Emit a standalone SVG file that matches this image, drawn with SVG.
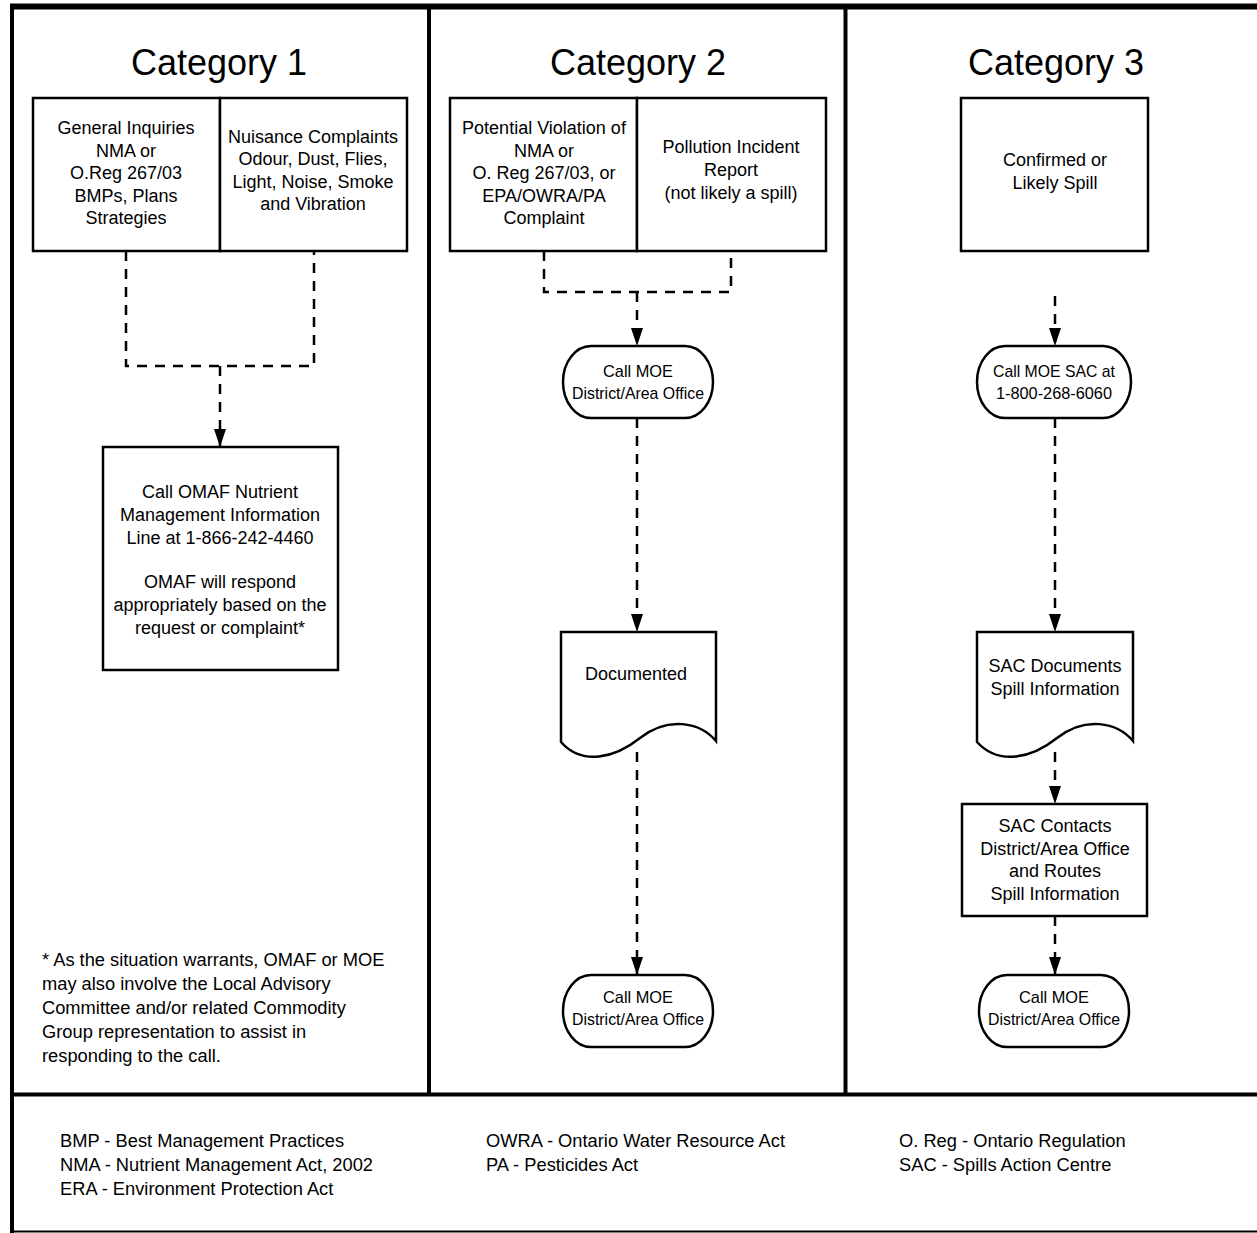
<svg xmlns="http://www.w3.org/2000/svg" width="1257" height="1233" viewBox="0 0 1257 1233">
<style>
text{font-family:"Liberation Sans",Arial,sans-serif;fill:#000;text-anchor:middle}
.t{font-size:36px}
.n{font-size:18px}
.s{font-size:17px}
.l{font-size:18.3px;text-anchor:start}
.box{fill:#fff;stroke:#000;stroke-width:2.5}
.frame{stroke:#000;fill:none}
.dash{fill:none;stroke:#000;stroke-width:2.5;stroke-dasharray:10 8}
</style>
<defs>
<marker id="arr" markerWidth="12" markerHeight="18" refX="6" refY="18" orient="0" markerUnits="userSpaceOnUse" viewBox="0 0 12 18">
<path d="M0,0 L12,0 L6,18 Z" fill="#000"/>
</marker>
</defs>
<rect width="1257" height="1233" fill="#fff"/>
<g id="frame">
<line class="frame" x1="10" y1="6.5" x2="1257" y2="6.5" stroke-width="6"/>
<line class="frame" x1="12" y1="4" x2="12" y2="1233" stroke-width="4"/>
<line class="frame" x1="429" y1="6" x2="429" y2="1094" stroke-width="4"/>
<line class="frame" x1="845.5" y1="6" x2="845.5" y2="1094" stroke-width="4"/>
<line class="frame" x1="10" y1="1094.5" x2="1257" y2="1094.5" stroke-width="4"/>
<line class="frame" x1="10" y1="1231.5" x2="1257" y2="1231.5" stroke-width="2"/>
</g>
<g id="titles">
<text class="t" x="219" y="75">Category 1</text>
<text class="t" x="638" y="75">Category 2</text>
<text class="t" x="1056" y="75">Category 3</text>
</g>
<g id="connectors">
<path class="dash" d="M126,251 V366 H314 V251"/>
<path class="dash" d="M220,366 V447" marker-end="url(#arr)"/>
<path class="dash" d="M544,251 V292 H731 V251"/>
<path class="dash" d="M637,292 V346" marker-end="url(#arr)"/>
<path class="dash" d="M637,418 V632" marker-end="url(#arr)"/>
<path class="dash" d="M637,752 V975" marker-end="url(#arr)"/>
<path class="dash" d="M1055,296 V346" marker-end="url(#arr)"/>
<path class="dash" d="M1055,418 V632" marker-end="url(#arr)"/>
<path class="dash" d="M1055,752 V804" marker-end="url(#arr)"/>
<path class="dash" d="M1055,916 V975" marker-end="url(#arr)"/>
</g>
<g id="c1-general">
<rect class="box" x="33" y="98" width="187" height="153"/>
<text class="n" x="126" y="134">General Inquiries</text>
<text class="n" x="126" y="156.5">NMA or</text>
<text class="n" x="126" y="179">O.Reg 267/03</text>
<text class="n" x="126" y="201.5">BMPs, Plans</text>
<text class="n" x="126" y="224">Strategies</text>
</g>
<g id="c1-nuisance">
<rect class="box" x="220" y="98" width="187" height="153"/>
<text class="n" x="313" y="142.5">Nuisance Complaints</text>
<text class="n" x="313" y="165">Odour, Dust, Flies,</text>
<text class="n" x="313" y="187.5">Light, Noise, Smoke</text>
<text class="n" x="313" y="210">and Vibration</text>
</g>
<g id="c1-omaf">
<rect class="box" x="103" y="447" width="235" height="223"/>
<text class="n" x="220" y="498">Call OMAF Nutrient</text>
<text class="n" x="220" y="521">Management Information</text>
<text class="n" x="220" y="543.5">Line at 1-866-242-4460</text>
<text class="n" x="220" y="588">OMAF will respond</text>
<text class="n" x="220" y="611">appropriately based on the</text>
<text class="n" x="220" y="633.5">request or complaint*</text>
</g>
<g id="c1-note">
<text class="l" x="42" y="965.5">* As the situation warrants, OMAF or MOE</text>
<text class="l" x="42" y="989.5">may also involve the Local Advisory</text>
<text class="l" x="42" y="1013.5">Committee and/or related Commodity</text>
<text class="l" x="42" y="1037.5">Group representation to assist in</text>
<text class="l" x="42" y="1061.5">responding to the call.</text>
</g>
<g id="c2-violation">
<rect class="box" x="450" y="98" width="187" height="153"/>
<text class="n" x="544" y="134">Potential Violation of</text>
<text class="n" x="544" y="156.5">NMA or</text>
<text class="n" x="544" y="179">O. Reg 267/03, or</text>
<text class="n" x="544" y="201.5">EPA/OWRA/PA</text>
<text class="n" x="544" y="224">Complaint</text>
</g>
<g id="c2-pollution">
<rect class="box" x="637" y="98" width="189" height="153"/>
<text class="n" x="731" y="153">Pollution Incident</text>
<text class="n" x="731" y="176">Report</text>
<text class="n" x="731" y="198.5">(not likely a spill)</text>
</g>
<g id="c2-call1">
<rect class="box" x="563" y="346" width="150" height="72" rx="28" ry="36"/>
<text class="s" x="638" y="377" textLength="70" lengthAdjust="spacingAndGlyphs">Call MOE</text>
<text class="s" x="638" y="399" textLength="132" lengthAdjust="spacingAndGlyphs">District/Area Office</text>
</g>
<g id="c2-doc">
<path class="box" d="M561,632 H716 V741 C700,722 668,716 640,738 C615,758 582,766 561,742 Z"/>
<text class="n" x="636" y="680">Documented</text>
</g>
<g id="c2-call2">
<rect class="box" x="563" y="975" width="150" height="72" rx="28" ry="36"/>
<text class="s" x="638" y="1003" textLength="70" lengthAdjust="spacingAndGlyphs">Call MOE</text>
<text class="s" x="638" y="1025" textLength="132" lengthAdjust="spacingAndGlyphs">District/Area Office</text>
</g>
<g id="c3-spill">
<rect class="box" x="961" y="98" width="187" height="153"/>
<text class="n" x="1055" y="166">Confirmed or</text>
<text class="n" x="1055" y="189">Likely Spill</text>
</g>
<g id="c3-call1">
<rect class="box" x="977" y="346" width="154" height="72" rx="28" ry="36"/>
<text class="s" x="1054" y="377" textLength="122" lengthAdjust="spacingAndGlyphs">Call MOE SAC at</text>
<text class="s" x="1054" y="399" textLength="116" lengthAdjust="spacingAndGlyphs">1-800-268-6060</text>
</g>
<g id="c3-doc">
<path class="box" d="M977,632 H1133 V741 C1117,722 1085,716 1057,738 C1032,758 999,766 977,742 Z"/>
<text class="n" x="1055" y="672">SAC Documents</text>
<text class="n" x="1055" y="694.5">Spill Information</text>
</g>
<g id="c3-contacts">
<rect class="box" x="962" y="804" width="185" height="112"/>
<text class="n" x="1055" y="832">SAC Contacts</text>
<text class="n" x="1055" y="854.5">District/Area Office</text>
<text class="n" x="1055" y="877">and Routes</text>
<text class="n" x="1055" y="899.5">Spill Information</text>
</g>
<g id="c3-call2">
<rect class="box" x="979" y="975" width="150" height="72" rx="28" ry="36"/>
<text class="s" x="1054" y="1003" textLength="70" lengthAdjust="spacingAndGlyphs">Call MOE</text>
<text class="s" x="1054" y="1025" textLength="132" lengthAdjust="spacingAndGlyphs">District/Area Office</text>
</g>
<g id="legend">
<text class="l" x="60" y="1146.5">BMP - Best Management Practices</text>
<text class="l" x="60" y="1170.5">NMA - Nutrient Management Act, 2002</text>
<text class="l" x="60" y="1194.5">ERA - Environment Protection Act</text>
<text class="l" x="486" y="1146.5">OWRA - Ontario Water Resource Act</text>
<text class="l" x="486" y="1170.5">PA - Pesticides Act</text>
<text class="l" x="899" y="1146.5">O. Reg - Ontario Regulation</text>
<text class="l" x="899" y="1170.5">SAC - Spills Action Centre</text>
</g>
</svg>
